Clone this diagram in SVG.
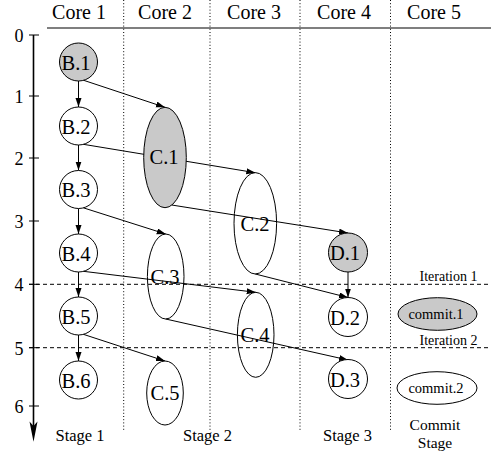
<svg xmlns="http://www.w3.org/2000/svg" width="491" height="455" viewBox="0 0 491 455">
<style>
text{font-family:'Liberation Serif','Times New Roman',Times,serif;fill:#000}
.hdr{font-size:20px;text-anchor:middle}
.tick{font-size:18px;text-anchor:middle}
.lbl{font-size:20.5px;text-anchor:middle}
.sm{font-size:14.5px;text-anchor:middle}
.stg{font-size:16.5px;text-anchor:middle}
.stg2{font-size:15.5px;text-anchor:middle}
.it{font-size:14px;text-anchor:middle}
.node{stroke:#000;stroke-width:1}
.gray{fill:#c9c9c9}
.white{fill:#fff}
.open{fill:none}
.edge{stroke:#000;stroke-width:1;fill:none;marker-end:url(#ah)}
.dot{stroke:#000;stroke-width:1;stroke-dasharray:1,2.2}
.dash{stroke:#000;stroke-width:1;stroke-dasharray:4,3}
</style>
<defs>
<marker id="ah" markerUnits="userSpaceOnUse" markerWidth="10" markerHeight="7" refX="9" refY="3" orient="auto">
<path d="M0,0 L9,3 L0,6 z" fill="#000"/>
</marker>
</defs>
<rect width="491" height="455" fill="#fff"/>
<g font-family="Liberation Serif, Times New Roman, serif">
<g id="grid">
<line x1="47" y1="28" x2="491" y2="28" stroke="#555" stroke-width="1.6"/>
<line class="dot" x1="123.7" y1="0" x2="123.7" y2="430"/>
<line class="dot" x1="210" y1="0" x2="210" y2="430"/>
<line class="dot" x1="300" y1="0" x2="300" y2="430"/>
<line class="dot" x1="390.5" y1="0" x2="390.5" y2="430"/>
<line class="dash" x1="29" y1="284.3" x2="491" y2="284.3"/>
<line class="dash" x1="29" y1="347.7" x2="491" y2="347.7"/>
<text class="it" x="448.5" y="281">Iteration 1</text>
<text class="it" x="448.5" y="345">Iteration 2</text>
</g>
<g id="headers">
<text class="hdr" x="79" y="18.5">Core 1</text>
<text class="hdr" x="165" y="18.5">Core 2</text>
<text class="hdr" x="254" y="18.5">Core 3</text>
<text class="hdr" x="344" y="18.5">Core 4</text>
<text class="hdr" x="434" y="18.5">Core 5</text>
</g>
<g id="axis">
<line x1="33.5" y1="35" x2="33.5" y2="428" stroke="#000" stroke-width="1.6"/>
<path d="M29.5,421.5 L33.5,441.7 L37.5,421.5 L33.5,426 z" fill="#000"/>
<g stroke="#000" stroke-width="1">
<line x1="29" y1="35" x2="39" y2="35"/>
<line x1="29" y1="96" x2="39" y2="96"/>
<line x1="29" y1="158" x2="39" y2="158"/>
<line x1="29" y1="221" x2="39" y2="221"/>
<line x1="29" y1="284.3" x2="39" y2="284.3"/>
<line x1="29" y1="347.7" x2="39" y2="347.7"/>
<line x1="29" y1="406" x2="39" y2="406"/>
</g>
<text class="tick" x="19" y="42">0</text>
<text class="tick" x="19" y="103">1</text>
<text class="tick" x="19" y="165">2</text>
<text class="tick" x="19" y="228">3</text>
<text class="tick" x="19" y="291">4</text>
<text class="tick" x="19" y="354.5">5</text>
<text class="tick" x="19" y="413">6</text>
</g>
<g id="connectors">
<line class="edge" x1="78.5" y1="81" x2="78.5" y2="107"/>
<line class="edge" x1="78.5" y1="145" x2="78.5" y2="170.5"/>
<line class="edge" x1="78.5" y1="208.5" x2="78.5" y2="234"/>
<line class="edge" x1="78.5" y1="272" x2="78.5" y2="297"/>
<line class="edge" x1="78.5" y1="335" x2="78.5" y2="361"/>
<line class="edge" x1="83.3" y1="80.2" x2="165" y2="107.3"/>
<line class="edge" x1="83.3" y1="144.3" x2="255.3" y2="172.7"/>
<line class="edge" x1="83.3" y1="207.8" x2="165.7" y2="234"/>
<line class="edge" x1="83.3" y1="271.3" x2="255.7" y2="292.3"/>
<line class="edge" x1="83.3" y1="334.3" x2="165" y2="361"/>
<line class="edge" x1="171.7" y1="205" x2="348" y2="233"/>
<line class="edge" x1="255.3" y1="274" x2="348" y2="297.5"/>
<line class="edge" x1="165.7" y1="319" x2="348" y2="360"/>
<line class="edge" x1="348" y1="272" x2="348" y2="297.5"/>
</g>
<g id="B1"><circle class="node gray" cx="78.5" cy="62" r="19"/><text class="lbl" x="76" y="69.5">B.1</text></g>
<g id="B2"><circle class="node white" cx="78.5" cy="126" r="19"/><text class="lbl" x="76" y="133.5">B.2</text></g>
<g id="B3"><circle class="node white" cx="78.5" cy="189.5" r="19"/><text class="lbl" x="76" y="197">B.3</text></g>
<g id="B4"><circle class="node white" cx="78.5" cy="253" r="19"/><text class="lbl" x="76" y="260.5">B.4</text></g>
<g id="B5"><circle class="node white" cx="78.5" cy="316" r="19"/><text class="lbl" x="76" y="323.5">B.5</text></g>
<g id="B6"><circle class="node white" cx="78.5" cy="380" r="19"/><text class="lbl" x="76" y="387.5">B.6</text></g>
<g id="C1"><ellipse class="node gray" cx="165" cy="157.5" rx="21.3" ry="50.2"/><text class="lbl" x="164" y="164">C.1</text></g>
<g id="C2"><ellipse class="node open" cx="255.3" cy="223.3" rx="21.3" ry="50.7"/><text class="lbl" x="255" y="230.5">C.2</text></g>
<g id="C3"><ellipse class="node open" cx="165.7" cy="276.5" rx="18.3" ry="42.5"/><text class="lbl" x="165" y="283.5">C.3</text></g>
<g id="C4"><ellipse class="node open" cx="255.7" cy="334.8" rx="18.3" ry="42.5"/><text class="lbl" x="255" y="341.5">C.4</text></g>
<g id="C5"><ellipse class="node white" cx="165" cy="393" rx="18.3" ry="32"/><text class="lbl" x="165" y="400">C.5</text></g>
<g id="D1"><circle class="node gray" cx="348" cy="252.5" r="19.5"/><text class="lbl" x="345" y="260">D.1</text></g>
<g id="D2"><circle class="node white" cx="348" cy="317" r="19.5"/><text class="lbl" x="345" y="324.5">D.2</text></g>
<g id="D3"><circle class="node white" cx="348" cy="379" r="19.5"/><text class="lbl" x="345" y="386.5">D.3</text></g>
<g id="commit1"><ellipse class="node gray" cx="437.5" cy="314" rx="39.5" ry="16.3"/><text class="sm" x="436" y="318.5">commit.1</text></g>
<g id="commit2"><ellipse class="node white" cx="437" cy="388" rx="40" ry="16.3"/><text class="sm" x="436" y="392.5">commit.2</text></g>
<g id="stages">
<text class="stg" x="80" y="441">Stage 1</text>
<text class="stg" x="207.5" y="441">Stage 2</text>
<text class="stg" x="347.5" y="441">Stage 3</text>
<text class="stg2" x="435" y="430">Commit</text>
<text class="stg2" x="435" y="448">Stage</text>
</g>
</g>
</svg>
